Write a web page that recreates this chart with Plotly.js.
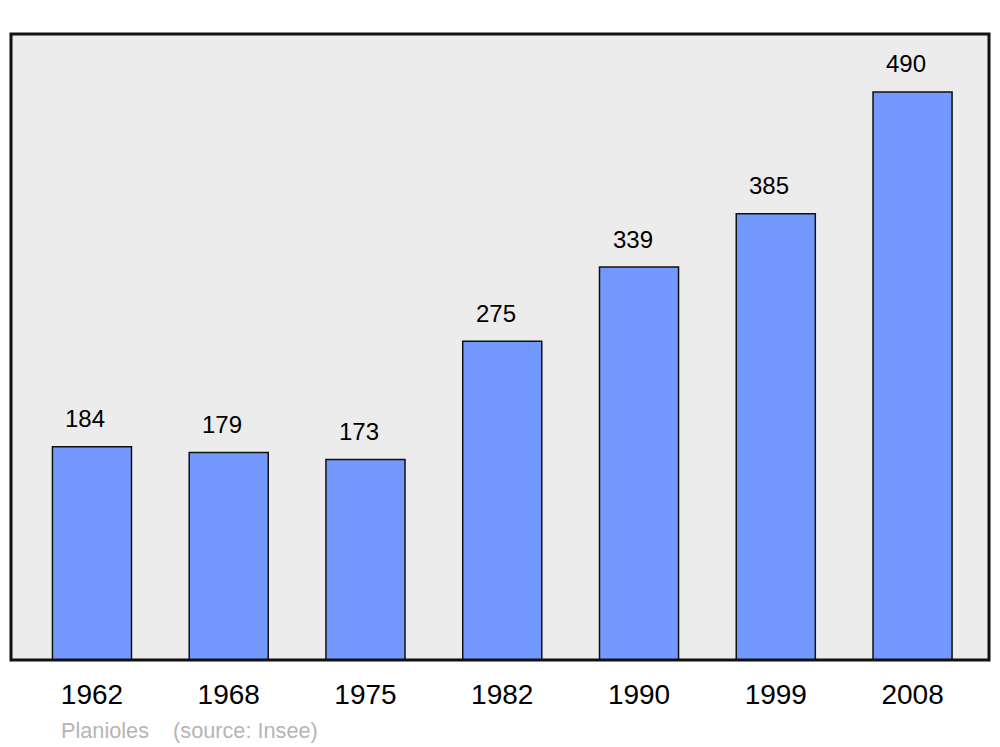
<!DOCTYPE html>
<html>
<head>
<meta charset="utf-8">
<script src="https://cdn.plot.ly/plotly-3.0.1.min.js"></script>
<style>html,body{margin:0;padding:0;background:#fff;}#chart{width:1000px;height:747px;}</style>
</head>
<body>
<div id="chart"></div>
<script>
const years = ["1962", "1968", "1975", "1982", "1990", "1999", "2008"];
const population = [184, 179, 173, 275, 339, 385, 490];
const sourceText = "Planioles\u00a0\u00a0\u00a0\u00a0(source: Insee)";

const trace = {
  type: "bar",
  x: years,
  y: population,
  width: 0.578,
  marker: { color: "#7399ff", line: { color: "#111111", width: 1.5 } },
  hoverinfo: "x+y"
};

const annotations = years.map((yr, i) => ({
  x: i, y: population[i], xref: "x", yref: "y",
  text: String(population[i]), showarrow: false,
  yanchor: "middle", yshift: 28, xshift: -6.5,
  font: { family: "Liberation Sans, Arial, sans-serif", size: 24, color: "#000" }
}));
annotations.push({
  xref: "paper", yref: "paper", x: 0.049, y: -0.112, xanchor: "left", yanchor: "middle",
  text: sourceText, showarrow: false,
  font: { family: "Liberation Sans, Arial, sans-serif", size: 21.7, color: "#b5b5b5" }
});

const layout = {
  width: 1000, height: 747,
  margin: { l: 11, r: 11, t: 34, b: 87 },
  paper_bgcolor: "#ffffff",
  plot_bgcolor: "#ececec",
  showlegend: false,
  xaxis: {
    type: "category",
    range: [-0.592, 6.559],
    showgrid: false, zeroline: false, showline: false, ticks: "",
    tickfont: { family: "Liberation Sans, Arial, sans-serif", size: 28, color: "#000" },
    ticklabelstandoff: 15
  },
  yaxis: {
    range: [0, 540], showgrid: false, zeroline: false, showline: false,
    showticklabels: false, ticks: ""
  },
  annotations: annotations,
  shapes: [{
    type: "rect", xref: "paper", yref: "paper", x0: 0, x1: 1, y0: 0, y1: 1,
    line: { color: "#111111", width: 3 }, fillcolor: "rgba(0,0,0,0)", layer: "above"
  }]
};

Plotly.newPlot("chart", [trace], layout, { displayModeBar: false, staticPlot: true });
</script>
</body>
</html>
